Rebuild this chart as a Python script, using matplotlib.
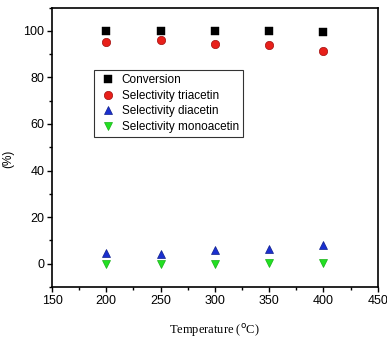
import matplotlib
matplotlib.use("Agg")
import matplotlib.pyplot as plt
from matplotlib.ticker import MultipleLocator

temperature = [200, 250, 300, 350, 400]
conversion = [99.7, 99.7, 99.7, 99.7, 99.3]
sel_triacetin = [95.4, 96.1, 94.4, 93.8, 91.5]
sel_diacetin = [4.6, 4.1, 5.7, 6.3, 8.2]
sel_monoacetin = [-0.2, -0.2, 0.0, 0.1, 0.4]

plt.rcParams['font.family'] = ['Liberation Sans', 'DejaVu Sans']

fig = plt.figure(figsize=(3.87, 3.45), dpi=100)
ax = fig.add_axes([52/387, 1-287/345, (377.7-52)/387, (287-7.5)/345])

ax.plot(temperature, conversion, 's', color='black', markersize=5.5, label='Conversion', markeredgewidth=0.3)
ax.plot(temperature, sel_triacetin, 'o', color='#e8201a', markeredgecolor='#a01010', markersize=6, markeredgewidth=0.5, label='Selectivity triacetin')
ax.plot(temperature, sel_diacetin, '^', color='#1a2fd0', markeredgecolor='#10208a', markersize=6, markeredgewidth=0.5, label='Selectivity diacetin')
ax.plot(temperature, sel_monoacetin, 'v', color='#22e022', markeredgecolor='#18b018', markersize=6, markeredgewidth=0.5, label='Selectivity monoacetin')

ax.set_xlim(150, 450)
ax.set_ylim(-10, 110)
ax.xaxis.set_major_locator(MultipleLocator(50))
ax.xaxis.set_minor_locator(MultipleLocator(25))
ax.yaxis.set_major_locator(MultipleLocator(20))
ax.yaxis.set_minor_locator(MultipleLocator(10))
ax.tick_params(which='both', direction='out', top=False, right=False, width=1.0, labelsize=9, pad=2)
ax.tick_params(which='major', length=3.5)
ax.tick_params(which='minor', length=2)
for s in ax.spines.values():
    s.set_linewidth(1.2)

ax.set_xlabel('Temperature ($^{\\rm o}$C)', family=['Liberation Serif', 'DejaVu Serif'], fontsize=9)
ax.xaxis.set_label_coords(0.5, -0.125)
ax.set_ylabel('(%)', fontsize=8.5)
ax.yaxis.set_label_coords(-0.115, 0.46)

leg = ax.legend(loc='upper left', bbox_to_anchor=(0.129, 0.776), fontsize=8.5, frameon=True,
                fancybox=False, edgecolor='black', borderpad=0.35, handletextpad=0.4,
                labelspacing=0.3, handlelength=1.6, borderaxespad=0)
leg.get_frame().set_linewidth(0.8)

fig.savefig('out.png', dpi=100)
